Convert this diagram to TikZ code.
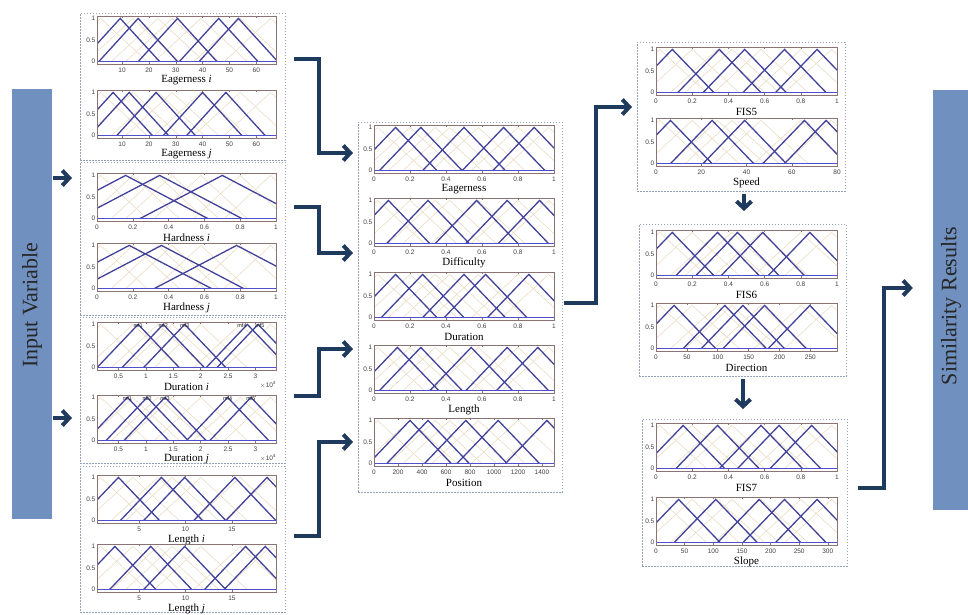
\documentclass[tikz,border=0pt]{standalone}
\usepackage{fontspec}
\setmainfont{Liberation Serif}
\newfontfamily\tickfont{Liberation Sans}
\usetikzlibrary{arrows.meta}
\definecolor{barblue}{RGB}{112,144,192}
\definecolor{flownavy}{RGB}{30,58,92}
\definecolor{mfblue}{RGB}{66,66,155}
\definecolor{mftan}{RGB}{236,222,198}
\definecolor{zeroblue}{RGB}{80,80,205}
\definecolor{axisbrown}{RGB}{140,115,115}
\definecolor{boxgray}{RGB}{150,160,182}

% one membership plot: name, left, top, width, half width, peaks, ticks, title
\newcommand{\mfplot}[8]{%
  \begin{scope}[shift={(#2,#3)}]
    \begin{scope}
      \clip (0,0) rectangle (#4,48);
      \foreach \pk in {0.02,0.2,0.34,0.42,0.58,0.8,0.97}
        \draw[tanmf] ({(\pk-0.26)*#4},45.6) -- ({\pk*#4},2.4) -- ({(\pk+0.26)*#4},45.6);
      \foreach \pk in {#6}
        \draw[bluemf] ({(\pk-#5)*#4},45.6) -- ({\pk*#4},2.4) -- ({(\pk+#5)*#4},45.6);
      \draw[zeromf] (0,45.6) -- (#4,45.6);
    \end{scope}
    \node[axisframe, minimum width=#4, minimum height=48, anchor=north west] (#1) at (0,0) {};
    \foreach \yv/\yd [count=\k] in {1/2.4,0.5/24,0/45.6}
      \node[ticklab, anchor=east] (#1-y\k) at (-1.5,\yd) {\yv};
    \foreach \tx/\lb [count=\k] in {#7} {
      \draw[axisbrown, line width=0.5pt] ({\tx*#4},48) -- ++(0,-2) ({\tx*#4},0) -- ++(0,2);
      \node[ticklab] (#1-x\k) at ({\tx*#4},54.5) {\lb};
    }
    \node[plottitle] (#1-t) at ({#4/2},64.5) {#8};
  \end{scope}}

\begin{document}
\begin{tikzpicture}[x=1pt, y=-1pt,
  bluemf/.style={mfblue, line width=1.3pt, line join=miter},
  tanmf/.style={mftan, line width=0.6pt},
  zeromf/.style={zeroblue, line width=1.4pt},
  axisframe/.style={draw=axisbrown, line width=0.8pt, inner sep=0pt},
  ticklab/.style={font=\tickfont\fontsize{6.5}{7}\selectfont, text=black!75, inner sep=0pt},
  mflab/.style={font=\tickfont\fontsize{5.5}{6}\selectfont, text=black!85, inner sep=0pt},
  plottitle/.style={font=\fontsize{11}{12}\selectfont, inner sep=0pt},
  groupbox/.style={draw=boxgray, dash pattern=on 1.6pt off 1.4pt, line width=0.9pt, inner sep=0pt, anchor=north west},
  bar/.style={fill=barblue, inner sep=0pt},
  bartext/.style={font=\fontsize{22}{24}\selectfont, text=black!85, rotate=90},
  flow/.style={flownavy, line width=4pt, -{Straight Barb[length=7pt,width=15pt]}}]
  \useasboundingbox[fill=white] (0,0) rectangle (968,614);

  % side bars
  \node[bar, minimum width=40, minimum height=430] (inbar) at (32,304) {};
  \node[bartext] (intext) at (32,305) {Input Variable};
  \node[bar, minimum width=35, minimum height=420] (outbar) at (950.5,300) {};
  \node[bartext] (outtext) at (951,306) {Similarity Results};

  % dashed groups
  \node[groupbox, minimum width=205, minimum height=147] (eagbox) at (80,13) {};
  \node[groupbox, minimum width=205, minimum height=153] (hardbox) at (80,162) {};
  \node[groupbox, minimum width=205, minimum height=146] (durbox) at (80,317) {};
  \node[groupbox, minimum width=205, minimum height=146] (lenbox) at (80,466) {};
  \node[groupbox, minimum width=204, minimum height=370] (allbox) at (358,122) {};
  \node[groupbox, minimum width=208, minimum height=149] (fis5box) at (637,42) {};
  \node[groupbox, minimum width=207, minimum height=152] (fis6box) at (639,224) {};
  \node[groupbox, minimum width=205, minimum height=147] (fis7box) at (642,419) {};

  % input variables
  \mfplot{eagi}{97}{16}{179}{0.22}{0.13,0.23,0.45,0.68,0.79}{0.14/10,0.29/20,0.44/30,0.59/40,0.74/50,0.89/60}{Eagerness \textit{i}}
  \mfplot{eagj}{97}{90}{179}{0.22}{0.09,0.18,0.33,0.59,0.72}{0.14/10,0.29/20,0.44/30,0.59/40,0.74/50,0.89/60}{Eagerness \textit{j}}
  \mfplot{hardi}{97}{173}{179}{0.46}{0.16,0.35,0.7}{0/0,0.2/0.2,0.4/0.4,0.6/0.6,0.8/0.8,1/1}{Hardness \textit{i}}
  \mfplot{hardj}{97}{243}{179}{0.46}{0.18,0.36,0.78}{0/0,0.2/0.2,0.4/0.4,0.6/0.6,0.8/0.8,1/1}{Hardness \textit{j}}
  \mfplot{duri}{97}{322}{179}{0.23}{0.23,0.37,0.49,0.84,0.9}{0.12/0.5,0.273/1,0.426/1.5,0.579/2,0.732/2.5,0.885/3}{Duration \textit{i}}
  \mfplot{durj}{97}{395}{179}{0.23}{0.17,0.28,0.38,0.73,0.86}{0.12/0.5,0.273/1,0.426/1.5,0.579/2,0.732/2.5,0.885/3}{Duration \textit{j}}
  \mfplot{leni}{97}{475}{179}{0.23}{0.12,0.36,0.49,0.77,0.95}{0.235/5,0.494/10,0.754/15}{Length \textit{i}}
  \mfplot{lenj}{97}{544}{179}{0.23}{0.1,0.3,0.49,0.83,0.94}{0.235/5,0.494/10,0.754/15}{Length \textit{j}}
  \foreach \pk [count=\k] in {0.23,0.37,0.49,0.81,0.91}
    \node[mflab] (duri-m\k) at ({97+\pk*179},325.5) {mf\k};
  \foreach \pk [count=\k] in {0.17,0.28,0.38,0.73,0.86}
    \node[mflab] (durj-m\k) at ({97+\pk*179},398.5) {mf\k};
  \node[ticklab] (duri-e) at (268,385) {$\times$10\textsuperscript{4}};
  \node[ticklab] (durj-e) at (268,458) {$\times$10\textsuperscript{4}};

  % merged features
  \mfplot{eag}{374}{125}{180}{0.23}{0.12,0.26,0.5,0.72,0.89}{0/0,0.2/0.2,0.4/0.4,0.6/0.6,0.8/0.8,1/1}{Eagerness}
  \mfplot{dif}{374}{198}{180}{0.23}{0.08,0.3,0.57,0.74,0.92}{0/0,0.2/0.2,0.4/0.4,0.6/0.6,0.8/0.8,1/1}{Difficulty}
  \mfplot{dur}{374}{272}{180}{0.23}{0.12,0.27,0.5,0.62,0.86}{0/0,0.2/0.2,0.4/0.4,0.6/0.6,0.8/0.8,1/1}{Duration}
  \mfplot{len}{374}{345}{180}{0.23}{0.13,0.26,0.54,0.74,0.91}{0/0,0.2/0.2,0.4/0.4,0.6/0.6,0.8/0.8,1/1}{Length}
  \mfplot{pos}{374}{418}{180}{0.23}{0.2,0.3,0.51,0.69,0.96}{0/0,0.133/200,0.267/400,0.4/600,0.533/800,0.667/1000,0.8/1200,0.933/1400}{Position}

  % FIS stages
  \mfplot{fis5}{656}{47}{181}{0.23}{0.09,0.35,0.49,0.71,0.89}{0/0,0.2/0.2,0.4/0.4,0.6/0.6,0.8/0.8,1/1}{FIS5}
  \mfplot{speed}{656}{118}{181}{0.23}{0.08,0.31,0.49,0.82,0.94}{0/0,0.25/20,0.5/40,0.75/60,1/80}{Speed}
  \mfplot{fis6}{656}{230}{181}{0.23}{0.09,0.34,0.45,0.59,0.85}{0/0,0.2/0.2,0.4/0.4,0.6/0.6,0.8/0.8,1/1}{FIS6}
  \mfplot{dir}{656}{303}{181}{0.23}{0.1,0.38,0.48,0.6,0.85}{0/0,0.171/50,0.341/100,0.512/150,0.683/200,0.853/250}{Direction}
  \mfplot{fis7}{656}{423}{181}{0.23}{0.15,0.34,0.58,0.68,0.86}{0/0,0.2/0.2,0.4/0.4,0.6/0.6,0.8/0.8,1/1}{FIS7}
  \mfplot{slope}{656}{497}{181}{0.23}{0.125,0.33,0.57,0.71,0.89}{0/0,0.158/50,0.316/100,0.475/150,0.633/200,0.791/250,0.949/300}{Slope}

  % arrows
  \draw[flow, shorten <=1pt, shorten >=8pt] (inbar.east |- 0,178) -- (hardbox.west |- 0,178);
  \draw[flow, shorten <=1pt, shorten >=8pt] (inbar.east |- 0,418) -- (durbox.west |- 0,418);
  \draw[flow, shorten <=8pt, shorten >=5pt] (eagbox.east |- 0,59) -- ++(33,0) |- (allbox.west |- 0,153);
  \draw[flow, shorten <=8pt, shorten >=5pt] (hardbox.east |- 0,207) -- ++(33,0) |- (allbox.west |- 0,253);
  \draw[flow, shorten <=8pt, shorten >=5pt] (durbox.east |- 0,396) -- ++(33,0) |- (allbox.west |- 0,349);
  \draw[flow, shorten <=8pt, shorten >=5pt] (lenbox.east |- 0,536) -- ++(33,0) |- (allbox.west |- 0,442);
  \draw[flow, shorten <=1pt, shorten >=5pt] (allbox.east |- 0,303) -- ++(33,0) |- (fis5box.west |- 0,107);
  \draw[flow, shorten <=2pt, shorten >=13pt] (fis5box.south -| 744,0) -- (fis6box.north -| 744,0);
  \draw[flow, shorten <=2pt, shorten >=10pt] (fis6box.south -| 743,0) -- (fis7box.north -| 743,0);
  \draw[flow, shorten <=10pt, shorten >=20pt] (fis7box.east |- 0,488) -- ++(36,0) |- (outbar.west |- 0,288);
\end{tikzpicture}
\end{document}
